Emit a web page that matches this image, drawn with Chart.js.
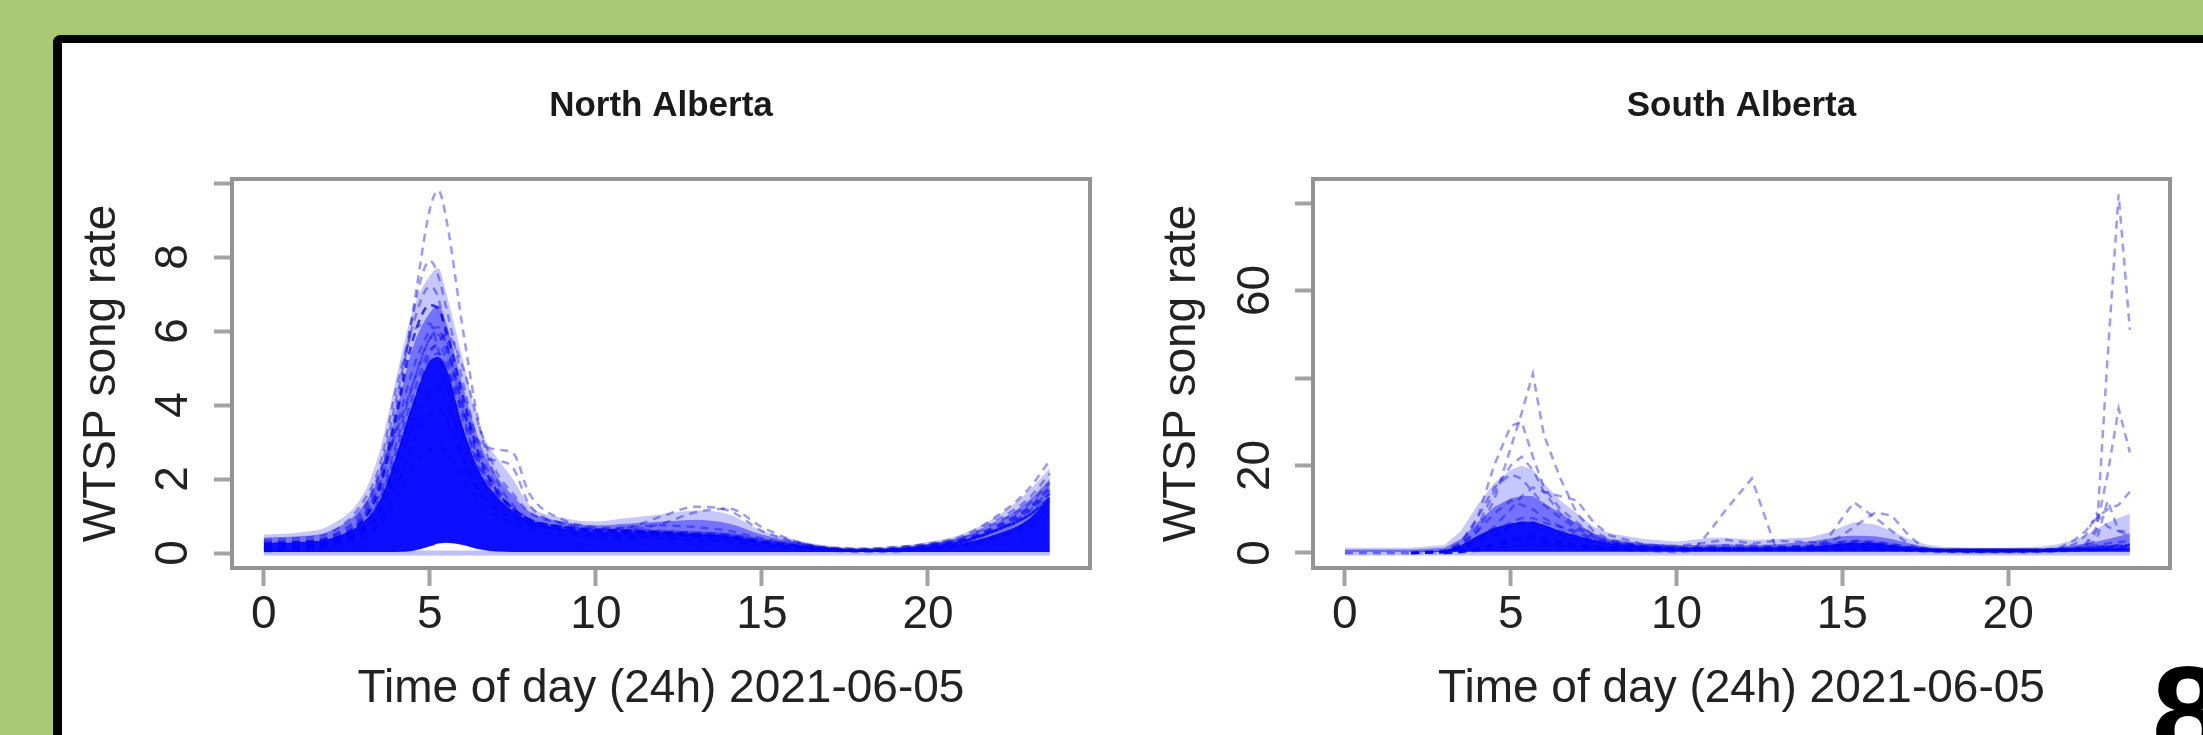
<!DOCTYPE html>
<html><head><meta charset="utf-8">
<script src="https://cdn.jsdelivr.net/npm/chart.js@4.4.1/dist/chart.umd.min.js"></script>
<style>
html,body{margin:0;padding:0;}
body{width:2203px;height:735px;background:#a9c977;position:relative;overflow:hidden;font-family:"Liberation Sans",Arial,sans-serif;}
#panel{position:absolute;left:53px;top:35px;width:2300px;height:900px;background:#fff;border-left:9px solid #000;border-top:8px solid #000;border-top-left-radius:8px;box-sizing:border-box;}
#cN{position:absolute;left:62px;top:44px;}
#cS{position:absolute;left:1130px;top:44px;}
#pg{position:absolute;left:2152px;top:637px;font:bold 130px "Liberation Sans",Arial,sans-serif;color:#000;line-height:normal;}
</style></head><body>
<div id="panel"></div>
<canvas id="cN" width="1048" height="691"></canvas>
<canvas id="cS" width="1073" height="691"></canvas>
<div id="pg">8</div>
<script>
// ---------- shared axis data ----------
const xTickValues = [0, 5, 10, 15, 20];
const xTickLabels = ['0', '5', '10', '15', '20'];
const xTitle = 'Time of day (24h) 2021-06-05';
const yTitle = 'WTSP song rate';

// ---------- North Alberta ----------
const northTitle = 'North Alberta';
const northHours = [0,1,2,3,3.5,4,4.5,5,5.25,5.5,6,6.5,7,7.5,8,9,10,11,12,13,14,15,16,17,18,19,20,21,22,23,23.67];
const northYTicks = [0, 2, 4, 6, 8, 10];
const northYLabels = ['0', '2', '4', '6', '8', ''];
const northZero  = [0,0,0,0,0,0,0,0,0,0,0,0,0,0,0,0,0,0,0,0,0,0,0,0,0,0,0,0,0,0,0];
const northFloor = [0.03,0.03,0.03,0.03,0.03,0.03,0.06,0.18,0.26,0.28,0.22,0.1,0.04,0.03,0.03,0.03,0.03,0.03,0.03,0.03,0.03,0.03,0.03,0.03,0.03,0.03,0.03,0.03,0.03,0.03,0.03];
const northCore  = [0.28,0.3,0.4,0.85,1.45,2.7,4.1,5.2,5.3,5.0,3.4,2.2,1.55,1.15,0.88,0.66,0.58,0.58,0.56,0.52,0.46,0.3,0.2,0.1,0.07,0.09,0.17,0.27,0.5,0.9,1.5];
const northHalo  = [0.42,0.45,0.6,1.3,2.2,3.9,5.6,6.5,6.7,6.2,4.5,3.0,2.1,1.55,1.12,0.85,0.75,0.8,0.85,0.9,0.8,0.5,0.32,0.17,0.12,0.15,0.25,0.42,0.8,1.4,2.0];
const northHaze  = [0.5,0.55,0.75,1.6,2.8,4.8,6.6,7.5,7.7,7.0,5.2,3.4,2.6,2.0,1.3,0.95,0.85,0.95,1.05,1.15,1.05,0.6,0.36,0.2,0.14,0.18,0.3,0.5,0.95,1.65,2.3];
const northSite1  = [0.1,0.15,0.3,1.0,2.0,4.0,6.6,9.3,9.8,9.0,6.0,3.4,2.0,1.3,0.9,0.6,0.5,0.45,0.4,0.35,0.3,0.2,0.15,0.1,0.05,0.05,0.1,0.2,0.4,0.8,1.2];
const northSite2  = [0.2,0.2,0.35,0.9,1.8,3.6,6.5,7.9,7.5,6.6,4.6,2.8,1.8,1.2,0.9,0.7,0.6,0.55,0.5,0.45,0.4,0.3,0.2,0.1,0.08,0.1,0.2,0.35,0.7,1.2,1.6];
const northSite3  = [0.15,0.2,0.3,0.9,1.8,3.8,5.8,6.7,6.6,6.0,4.2,2.6,1.7,1.2,0.9,0.7,0.6,0.6,0.55,0.5,0.45,0.3,0.2,0.1,0.06,0.08,0.15,0.3,0.6,1.0,1.5];
const northSite4  = [0.25,0.3,0.45,1.1,2.2,4.2,6.2,7.2,6.9,5.8,3.8,2.2,1.5,1.1,0.85,0.7,0.65,0.7,0.75,0.7,0.6,0.4,0.25,0.12,0.08,0.1,0.2,0.4,0.8,1.3,1.9];
const northSite5  = [0.1,0.15,0.25,0.6,1.2,2.5,4.0,5.2,5.4,5.0,3.8,3.0,2.8,2.7,1.6,0.9,0.7,0.65,0.6,0.55,0.5,0.35,0.2,0.1,0.06,0.08,0.15,0.3,0.6,1.1,1.7];
const northSite6  = [0.2,0.2,0.3,0.7,1.5,2.8,4.3,5.5,5.6,5.2,3.2,2.6,2.5,2.3,1.3,0.8,0.65,0.6,0.55,0.5,0.45,0.3,0.2,0.1,0.07,0.1,0.2,0.35,0.7,1.2,1.8];
const northSite7  = [0.1,0.12,0.2,0.5,0.9,1.8,3.0,3.8,3.9,3.6,2.6,1.7,1.2,0.9,0.75,0.65,0.6,0.7,1.0,1.25,1.15,0.6,0.3,0.12,0.08,0.1,0.2,0.3,0.6,1.0,1.4];
const northSite8  = [0.15,0.15,0.25,0.6,1.1,2.2,3.5,4.4,4.5,4.1,3.0,2.0,1.4,1.0,0.8,0.65,0.6,0.62,0.8,1.1,1.2,0.7,0.32,0.13,0.08,0.1,0.2,0.35,0.65,1.1,1.6];
const northSite9  = [0.3,0.3,0.4,0.9,1.6,3.0,4.6,5.8,5.9,5.4,3.6,2.3,1.6,1.2,0.9,0.7,0.62,0.6,0.58,0.55,0.5,0.35,0.25,0.15,0.12,0.16,0.25,0.45,0.95,1.7,2.5];
const northSite10 = [0.25,0.3,0.4,1.0,1.9,3.4,5.0,6.0,6.1,5.6,3.9,2.4,1.6,1.2,0.9,0.72,0.62,0.6,0.58,0.55,0.5,0.35,0.25,0.14,0.1,0.15,0.24,0.4,0.85,1.45,2.15];
const northSite11 = [0.36,0.4,0.55,1.4,2.4,4.5,6.0,6.2,5.5,4.5,2.6,1.6,1.2,0.95,0.8,0.65,0.55,0.5,0.5,0.45,0.4,0.3,0.2,0.1,0.06,0.08,0.15,0.3,0.6,1.0,1.4];
const northSite12 = [0.3,0.32,0.45,1.2,2.2,3.3,4.6,5.8,6.0,5.6,4.0,2.5,1.7,1.2,0.9,0.7,0.6,0.58,0.55,0.5,0.45,0.3,0.2,0.1,0.07,0.1,0.18,0.32,0.65,1.15,1.75];
const northSite13 = [0.12,0.15,0.25,0.7,1.4,2.6,4.0,5.4,5.7,5.9,5.0,3.4,2.2,1.6,1.1,0.8,0.65,0.6,0.55,0.5,0.45,0.3,0.2,0.1,0.06,0.08,0.15,0.3,0.6,1.0,1.5];
const northSite14 = [0.05,0.08,0.15,0.4,0.8,1.5,2.3,2.8,2.9,2.7,2.0,1.4,1.0,0.8,0.65,0.5,0.45,0.4,0.4,0.35,0.3,0.2,0.12,0.06,0.04,0.05,0.1,0.2,0.4,0.7,1.0];

// ---------- South Alberta ----------
const southTitle = 'South Alberta';
const southHours = [0,1,2,3,3.5,4,4.5,5,5.33,5.67,6,6.5,7,7.5,8,9,10,10.5,11,11.5,12.27,13,14,14.5,15,15.35,16,16.5,17,17.5,18,19,20,21,21.5,22,22.33,22.67,23,23.33,23.67];
const southYTicks = [0, 20, 40, 60, 80];
const southYLabels = ['0', '20', '', '60', ''];
const southZero  = [0,0,0,0,0,0,0,0,0,0,0,0,0,0,0,0,0,0,0,0,0,0,0,0,0,0,0,0,0,0,0,0,0,0,0,0,0,0,0,0,0];
const southFloor = [0.3,0.3,0.3,0.3,0.3,0.3,0.3,0.3,0.3,0.3,0.3,0.3,0.3,0.3,0.3,0.3,0.3,0.3,0.3,0.3,0.3,0.3,0.3,0.3,0.3,0.3,0.3,0.3,0.3,0.3,0.3,0.3,0.3,0.3,0.3,0.3,0.3,0.3,0.3,0.3,0.3];
const southCore  = [0.3,0.3,0.3,0.6,1.8,4.0,5.8,6.8,7.2,7.2,6.5,5.0,4.0,3.0,2.2,1.4,1.1,1.1,1.1,1.1,1.1,1.1,1.3,1.8,2.2,2.4,2.3,1.8,1.2,1.0,1.0,1.0,1.0,1.0,1.1,1.1,1.1,1.1,1.2,1.2,1.2];
const southHalo  = [0.8,0.8,0.8,1.2,3.2,7.0,10.5,12.5,13.0,13.0,11.5,9.0,6.8,4.5,3.2,2.2,1.8,1.8,2.0,2.0,1.8,2.0,2.6,3.2,3.8,4.0,3.8,3.2,2.2,1.4,1.0,0.8,0.8,1.0,1.3,1.8,2.2,2.6,3.2,3.8,4.5];
const southHaze  = [1.2,1.2,1.2,1.8,5,11,16,19,20,19,16,12,9,6,4.5,3.2,2.6,3,3.5,3.5,3,3.2,3.6,4.5,6,7,6.5,5,3.2,2,1.4,1.2,1.2,1.5,2,3,4,5.5,7,8,9];
const southSite1  = [0,0,0,0.2,1,5,12,24,32,41,27,17,9,5,3,1.5,1,0.8,0.8,0.8,0.8,0.8,0.8,0.8,0.8,0.8,0.8,0.8,0.6,0.5,0.5,0.4,0.4,0.5,0.6,0.8,0.9,1,1.1,1.2,1.2];
const southSite2  = [0,0,0,0.3,2,8,20,29,30,22,15,10,7,4,2.5,1.5,1,1,1,1,1,1,1.2,1.5,1.8,2,1.8,1.4,1,0.8,0.6,0.5,0.5,0.6,0.8,1,1.2,1.4,1.6,1.8,2];
const southSite3  = [0,0,0,0.3,1.5,6,14,20,22,19,14,9,6,4,2.5,1.5,1.2,1,1,1,1,1,1,1,1.2,1.3,1.2,1,0.8,0.6,0.5,0.4,0.4,0.5,0.6,0.8,1,1.2,1.4,1.5,1.6];
const southSite4  = [0,0,0,0.5,2.5,8,15,18,17,14,11,8,5.5,3.5,2.2,1.4,1.1,1,1.2,1.2,1.2,1.2,1.4,1.8,2.5,2.8,2.5,2,1.4,1,0.8,0.6,0.6,0.7,0.9,1.2,1.5,1.8,2.2,2.5,2.8];
const southSite5  = [0,0,0,0.2,1,3,6,10,13,15,14,13,12,7,4,2,1.4,1.2,1.2,1.2,1.2,1.2,1.3,1.5,1.8,2,1.8,1.5,1.2,0.9,0.7,0.5,0.5,0.6,0.8,1,1.2,1.4,1.5,1.6,1.7];
const southSite6  = [0,0,0,0.5,2,5,9,12,11,10,8,6,4.5,3,2,1.3,1,1,1,1,1,1,1.1,1.3,1.6,1.8,1.6,1.3,1,0.8,0.6,0.5,0.5,0.6,0.7,0.9,1.1,1.3,1.5,1.6,1.8];
const southSite7  = [0,0,0,0,0.2,0.5,1,1.5,1.8,2,1.8,1.5,1.2,1,0.8,0.5,0.2,0.5,5,10,17,1,0.8,0.8,1,1,1,0.8,0.6,0.4,0.3,0.2,0.2,0.3,0.4,0.5,0.6,0.7,0.8,0.9,1];
const southSite8  = [0,0,0,0,0.3,1,2,3,3.5,3.5,3,2.5,2,1.5,1.2,1,1,1,1.2,1.2,1.2,1.2,1.5,2.7,8,11.6,8,5,2,0.5,0.3,0.2,0.2,0.3,0.4,0.6,0.8,1,1.2,1.3,1.4];
const southSite9  = [0,0,0,0,0.3,1,2,3,3.2,3,2.6,2.2,1.8,1.4,1.1,0.9,0.8,0.8,1,1.1,1.2,1.3,1.6,2.2,4,6,9.3,8.5,4,1,0.5,0.3,0.3,0.4,0.5,0.7,0.9,1.1,1.3,1.4,1.5];
const southSite10 = [0,0,0,0,0.2,0.8,1.5,2.5,3,3,2.5,2,1.5,1.2,1,0.8,0.6,0.6,0.6,0.6,0.6,0.6,0.6,0.6,0.7,0.7,0.7,0.6,0.5,0.4,0.3,0.3,0.3,0.4,0.5,0.5,1.5,5,45,82,51];
const southSite11 = [0,0,0,0,0.3,1,2,3.5,4,4,3.5,2.8,2,1.5,1.2,1,0.8,0.8,0.8,0.8,0.8,0.8,0.9,1,1.2,1.3,1.2,1,0.8,0.6,0.5,0.4,0.4,0.5,0.7,1,2,6,18,33,23];
const southSite12 = [0,0,0,0.2,0.8,2,4,6,7,7,6,5,4,3,2.2,1.5,1,1,1,1,1,1,1.2,1.5,2,2.3,2.1,1.6,1.1,0.7,0.5,0.4,0.5,0.8,1,3,5,8,10,11,14];
const southSite13 = [0,0,0,0.3,1.2,3,5,7,8,8,7,6,5,3.5,2.5,1.6,1.2,1.2,1.5,1.8,1.8,1.5,1.6,1.8,2.2,2.5,2.3,1.8,1.3,0.9,0.6,0.5,0.5,0.5,0.8,2,4,9,6,5,5];
const southSite14 = [0,0,0,0.2,1,2.5,4,6,6.5,6,5,4,3,2.5,2,1.8,1.6,2,2.5,3,2.2,2.8,2.5,2.2,2.5,2.7,2.5,2,1.4,1,0.7,0.5,0.5,0.6,0.8,1,1.5,3,12,5,4];

// ---------- rendering ----------
const FAMILY = '"Liberation Sans", Arial, Helvetica, sans-serif';
const LINE_COLOR = 'rgba(0,0,255,0.4)';
const STRONG_LINE = 'rgba(0,0,255,0.75)';
const FLAT_ZERO_COLOR = 'rgba(0,0,255,0.05)';

const framePlugin = {
  id: 'frame',
  afterDraw(chart) {
    const {ctx, chartArea: a} = chart;
    ctx.save();
    ctx.strokeStyle = '#939393';
    ctx.lineWidth = 4;
    ctx.strokeRect(a.left, a.top, a.right - a.left, a.bottom - a.top);
    ctx.restore();
  }
};

function makePanel(id, p) {
  const pts = vals => p.hours.map((h, i) => ({x: h, y: vals[i]}));
  const curve = p.smooth ? {cubicInterpolationMode: 'monotone'} : {tension: 0};
  const none = 'rgba(0,0,0,0)';
  const ds = [];
  ds.push(Object.assign({data: pts(p.floor), borderColor: none, borderWidth: 0, fill: false, order: 10}, curve));
  ds.push(Object.assign({data: pts(p.core), borderColor: none, borderWidth: 0, backgroundColor: 'rgba(0,0,255,0.95)', fill: 0, order: 10}, curve));
  ds.push(Object.assign({data: pts(p.halo), borderColor: none, borderWidth: 0, backgroundColor: 'rgba(0,0,255,0.55)', fill: 1, order: 10}, curve));
  ds.push(Object.assign({data: pts(p.haze), borderColor: none, borderWidth: 0, backgroundColor: 'rgba(0,0,255,0.22)', fill: 2, order: 10}, curve));
  ds.push(Object.assign({data: pts(p.zero), borderColor: 'rgba(0,0,255,0.25)', borderWidth: 5, fill: false, order: 5}, curve));
  p.sites.forEach((v, k) => ds.push(Object.assign({
    data: pts(v), borderColor: p.strong.includes(k) ? STRONG_LINE : LINE_COLOR,
    segment: {borderColor: c => (c.p0.parsed.y === 0 && c.p1.parsed.y === 0) ? FLAT_ZERO_COLOR : undefined},
    borderWidth: 2.5, borderDash: [8, 6], fill: false, order: 1}, curve)));

  return new Chart(document.getElementById(id), {
    type: 'line',
    data: {datasets: ds},
    plugins: [framePlugin],
    options: {
      responsive: false, animation: false, devicePixelRatio: 1,
      elements: {point: {radius: 0, hoverRadius: 0}},
      layout: {padding: {left: 0, right: p.padRight, top: 0, bottom: 0}},
      plugins: {
        legend: {display: false}, tooltip: {enabled: false},
        title: {display: true, text: p.title, fullSize: false, color: '#1a1a1a',
          font: {family: FAMILY, size: 35, weight: 'bold', lineHeight: 1.2},
          padding: {top: 41, bottom: 52}}
      },
      scales: {
        x: {
          type: 'linear', min: -0.96, max: 24.88,
          afterBuildTicks: s => { s.ticks = xTickValues.map(v => ({value: v})); },
          afterFit: s => { s.height = 167; },
          border: {display: false},
          grid: {drawOnChartArea: false, drawTicks: true, tickLength: 18, tickWidth: 4, tickColor: '#a3a3a3'},
          ticks: {autoSkip: false, maxRotation: 0, minRotation: 0, padding: 2, color: '#222',
            font: {family: FAMILY, size: 46, lineHeight: 1.2},
            callback: (v, i) => xTickLabels[i]},
          title: {display: true, text: xTitle, color: '#222',
            font: {family: FAMILY, size: 46, lineHeight: 1.2}, padding: {top: 0, bottom: 18.4}}
        },
        y: {
          type: 'linear', min: p.yMin, max: p.yMax,
          afterBuildTicks: s => { s.ticks = p.yTicks.map(v => ({value: v})); },
          afterFit: s => { s.width = p.yAxisWidth; },
          border: {display: false},
          grid: {drawOnChartArea: false, drawTicks: true, tickLength: 18, tickWidth: 4, tickColor: '#a3a3a3'},
          ticks: {autoSkip: false, minRotation: 90, maxRotation: 90, crossAlign: 'center', padding: p.yTickPad,
            color: '#222', font: {family: FAMILY, size: 46, lineHeight: 1.2},
            callback: (v, i) => p.yLabels[i]},
          title: {display: true, text: yTitle, color: '#222',
            font: {family: FAMILY, size: 46, lineHeight: 1.2}, padding: {top: p.yTitlePad, bottom: 0}}
        }
      }
    }
  });
}

makePanel('cN', {
  title: northTitle, hours: northHours, smooth: true,
  floor: northFloor, core: northCore, halo: northHalo, haze: northHaze, zero: northZero,
  sites: [northSite1, northSite2, northSite3, northSite4, northSite5, northSite6, northSite7,
          northSite8, northSite9, northSite10, northSite11, northSite12, northSite13, northSite14],
  strong: [2],
  yTicks: northYTicks, yLabels: northYLabels, yMin: -0.405, yMax: 10.11,
  yAxisWidth: 170, yTickPad: 27.2, yTitlePad: 12.4, padRight: 20
});

makePanel('cS', {
  title: southTitle, hours: southHours, smooth: false,
  floor: southFloor, core: southCore, halo: southHalo, haze: southHaze, zero: southZero,
  sites: [southSite1, southSite2, southSite3, southSite4, southSite5, southSite6, southSite7,
          southSite8, southSite9, southSite10, southSite11, southSite12, southSite13, southSite14],
  strong: [],
  yTicks: southYTicks, yLabels: southYLabels, yMin: -3.43, yMax: 85.49,
  yAxisWidth: 183, yTickPad: 13.4, yTitlePad: 24.4, padRight: 33
});
</script>
</body></html>
